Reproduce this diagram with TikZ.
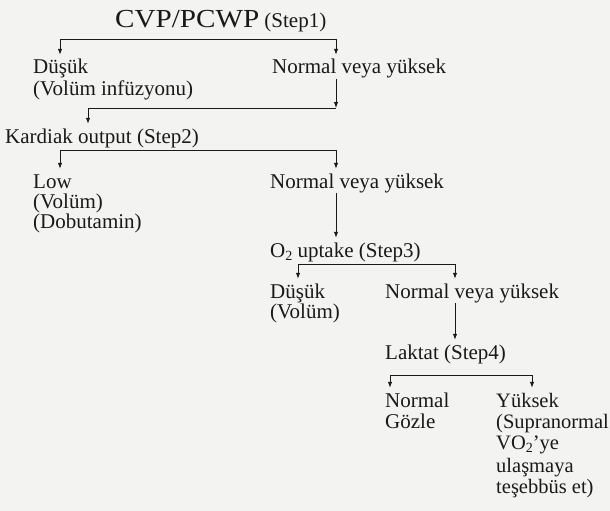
\documentclass[tikz,border=0pt]{standalone}
\usepackage{fontspec}
\usepackage{graphicx}
\setmainfont{Liberation Serif}
\usetikzlibrary{arrows.meta}
\definecolor{ink}{RGB}{25,25,25}
\definecolor{paper}{RGB}{243,243,241}
\newcommand{\sub}[1]{\raisebox{-3pt}{\fontsize{14}{14}\selectfont #1}}
\begin{document}
\begin{tikzpicture}[x=1pt,y=-1pt,
  lbl/.style={anchor=base west, inner sep=0pt, text height=19pt, text depth=5pt,
              font=\fontsize{21}{20}\selectfont, text=ink},
  cont/.style={lbl, text height=15pt, text depth=4pt},
  rcol/.style={font=\fontsize{20.5}{20}\selectfont},
  wire/.style={draw=ink, line width=1pt},
  arr/.style={wire, -{Latex[length=6pt,width=4.5pt]}},
  darr/.style={wire, {Latex[length=6pt,width=4.5pt]}-{Latex[length=6pt,width=4.5pt]}}]
\fill[paper] (0,0) rectangle (610,511);
\useasboundingbox (0,0) rectangle (610,511);

% nodes
\node[lbl] (cvp) at (115,28) {\scalebox{1.12}[1]{\fontsize{26}{26}\selectfont CVP/PCWP} (Step1)};
\node[lbl] (d1) at (33,74) {Düşük};
\node[cont] (d1b) at (33,95) {(Volüm infüzyonu)};
\node[lbl] (n1) at (272,74) {Normal veya yüksek};
\node[lbl] (ko) at (5,143) {Kardiak output (Step2)};
\node[lbl] (low) at (33,188) {Low};
\node[cont] (lowb) at (33,208) {(Volüm)};
\node[cont] (lowc) at (33,228) {(Dobutamin)};
\node[lbl] (n2) at (270,188) {Normal veya yüksek};
\node[lbl] (o2) at (270,257) {O\sub{2} uptake (Step3)};
\node[lbl] (d3) at (270,298) {Düşük};
\node[cont] (d3b) at (270,318) {(Volüm)};
\node[lbl] (n3) at (385,298) {Normal veya yüksek};
\node[lbl] (lak) at (385,359) {Laktat (Step4)};
\node[lbl] (nm) at (385,407) {Normal};
\node[cont] (gz) at (385,428) {Gözle};
\node[lbl, rcol] (yk) at (496,407) {Yüksek};
\node[cont, rcol] (s1) at (496,428) {(Supranormal};
\node[cont, rcol] (s2) at (496,449) {VO\sub{2}'ye};
\node[cont, rcol] (s3) at (496,472) {ulaşmaya};
\node[cont, rcol] (s4) at (496,493) {teşebbüs et)};

% junction coordinates
\coordinate (a1) at (60,40);   \coordinate (b1) at (336,40);
\coordinate (a2) at (88,108);  \coordinate (b2) at (336,108);
\coordinate (a3) at (60,150);  \coordinate (b3) at (336,150);
\coordinate (a4) at (298,264); \coordinate (b4) at (455,264);
\coordinate (a5) at (390,375); \coordinate (b5) at (532,375);

% connectors
\draw[darr] (d1.north -| a1) -- (a1) -- (b1) -- (b1 |- n1.north);
\draw[arr] (n1.south -| b2) -- (b2);
\draw[arr] (b2) -- (a2) -- (a2 |- ko.north);
\draw[darr] (low.north -| a3) -- (a3) -- (b3) -- (b3 |- n2.north);
\draw[arr] (n2.south -| b3) -- (o2.north -| b3);
\draw[darr] (d3.north -| a4) -- (a4) -- (b4) -- (b4 |- n3.north);
\draw[arr] (n3.south -| b4) -- (lak.north -| b4);
\draw[darr] (nm.north -| a5) -- (a5) -- (b5) -- (b5 |- yk.north);
\end{tikzpicture}
\end{document}
